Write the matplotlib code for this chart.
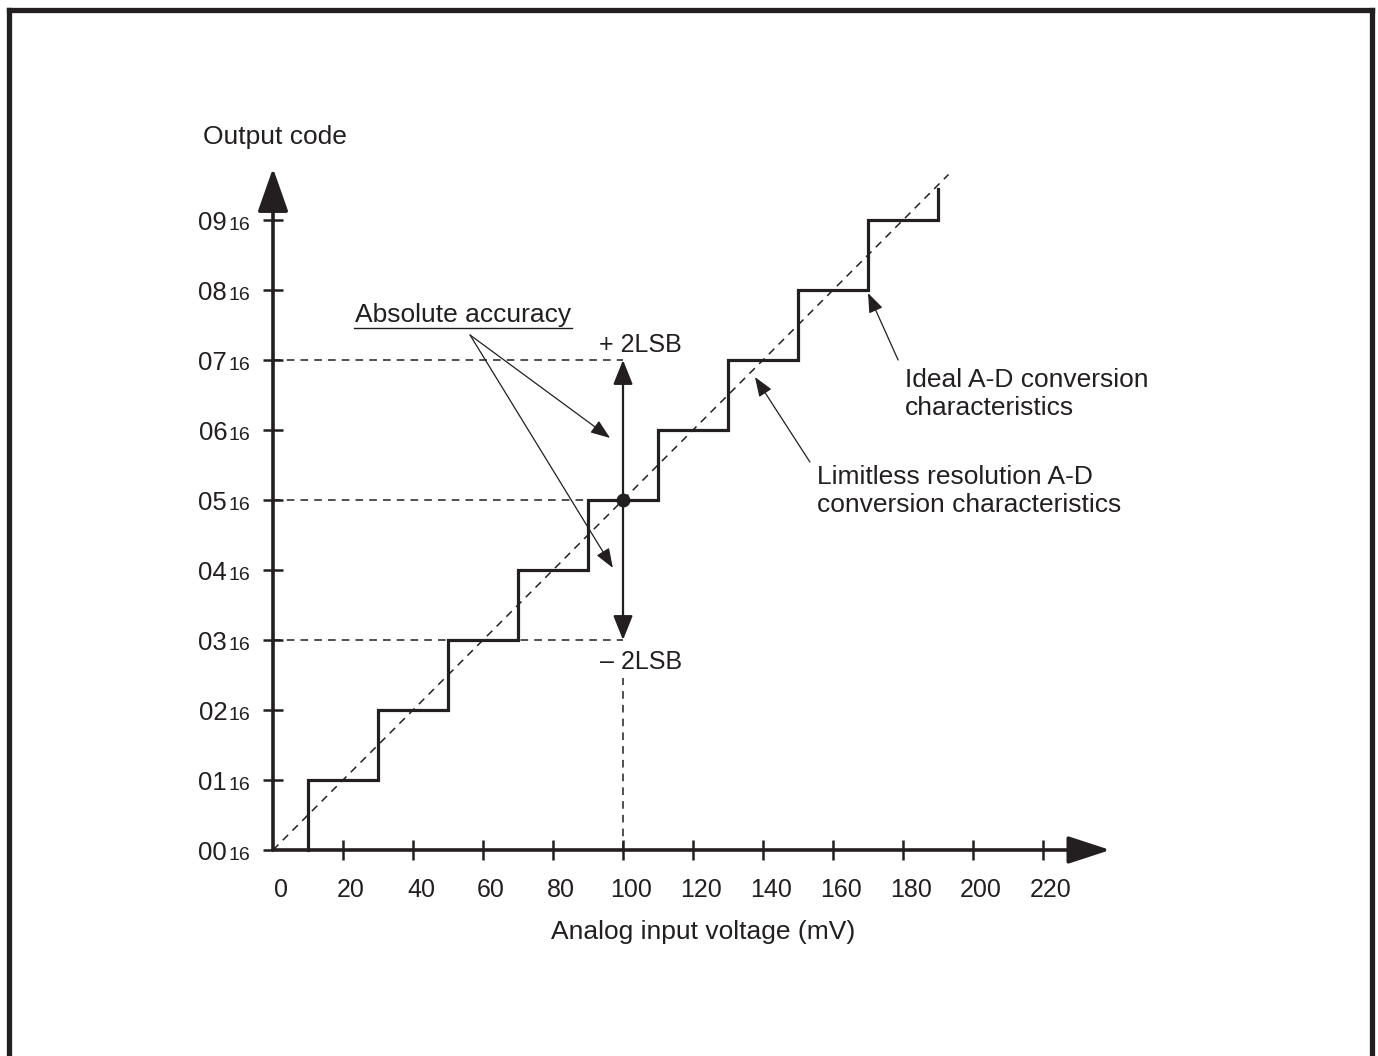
"""
Ideal A-D conversion characteristics vs. limitless resolution line
"""

import matplotlib
matplotlib.use('Agg')
import matplotlib.pyplot as plt
from matplotlib.lines import Line2D

plt.rcParams['font.family'] = ['Liberation Sans', 'DejaVu Sans']

INK = '#231f20'

# data
x_ticks = [20, 40, 60, 80, 100, 120, 140, 160, 180, 200, 220]
x_ticklabels = ['0', '20', '40', '60', '80', '100', '120', '140', '160', '180', '200', '220']
x_label_pos = [0] + x_ticks
y_codes = [0, 1, 2, 3, 4, 5, 6, 7, 8, 9]
y_labels = ['00', '01', '02', '03', '04', '05', '06', '07', '08', '09']
step_edges = [10, 30, 50, 70, 90, 110, 130, 150, 170, 190]   # mV where code steps up
last_top = 9.44
ideal_end = (193, 9.65)        # end of the limitless resolution line
center_v, center_code = 100, 5
acc_codes = [3, 5, 7]          # -2LSB, centre, +2LSB

fig = plt.figure(figsize=(13.78, 10.56), dpi=100)
ax = fig.add_axes([0, 0, 1, 1])
ax.set_xlim(-78, 315.71)
ax.set_ylim(-2.943, 12.143)
ax.axis('off')

# outer frame (open at the bottom)
for xs, ys in [([8.5, 8.5], [0, 1046]), ([8.5, 1371.5], [1046, 1046]), ([1371.5, 1371.5], [1046, 0])]:
    fig.add_artist(Line2D([x / 1378 for x in xs], [y / 1056 for y in ys],
                          transform=fig.transFigure, color=INK, lw=3.8))

# axes with arrows
ax.annotate('', xy=(239.2, 0), xytext=(0, 0),
            arrowprops=dict(arrowstyle='-|>,head_length=2.6,head_width=0.85',
                            color=INK, lw=2.6, shrinkA=0, shrinkB=0))
ax.annotate('', xy=(0, 9.74), xytext=(0, 0),
            arrowprops=dict(arrowstyle='-|>,head_length=2.7,head_width=0.95',
                            color=INK, lw=2.6, shrinkA=0, shrinkB=0))

# ticks
for v in x_ticks:
    ax.plot([v, v], [-0.143, 0.143], color=INK, lw=1.8, solid_capstyle='butt')
for c in y_codes:
    ax.plot([-2.86, 2.86 if c else 0], [c, c], color=INK, lw=1.8, solid_capstyle='butt')

for v, lab in zip(x_label_pos, x_ticklabels):
    ax.text(v + 2.3, -0.571, lab, ha='center', va='center', fontsize=18, color=INK)
for c, lab in zip(y_codes, y_labels):
    ax.text(-13.1, c - 0.136, lab, ha='right', va='baseline', fontsize=18.5, color=INK)
    ax.text(-12.6, c - 0.136, '16', ha='left', va='baseline', fontsize=14, color=INK)

ax.text(-20, 10.186, 'Output code', ha='left', va='center', fontsize=19, color=INK)
ax.text(122.9, -1.171, 'Analog input voltage (mV)', ha='center', va='center',
        fontsize=19, color=INK)

# limitless resolution line (dashed)
dash = dict(color=INK, lw=1.1, ls=(0, (5, 4)))
ax.plot([0, ideal_end[0]], [0, ideal_end[1]], **dash)

# ideal staircase
sx, sy = [], []
for i, e in enumerate(step_edges):
    sx += [e, e]
    sy += [i, i + 1 if i + 1 < len(step_edges) else last_top]
    if i + 1 < len(step_edges):
        sx += [step_edges[i + 1]]
        sy += [i + 1]
ax.plot(sx, sy, color=INK, lw=2.3, solid_joinstyle='miter')

# absolute accuracy guides
for c in acc_codes:
    ax.plot([0, center_v], [c, c], **dash)
ax.plot([center_v, center_v], [0, 2.45], **dash)
ax.annotate('', xy=(center_v, acc_codes[2]), xytext=(center_v, center_code),
            arrowprops=dict(arrowstyle='-|>,head_length=1.5,head_width=0.6',
                            color=INK, lw=1.6, shrinkA=0, shrinkB=0))
ax.annotate('', xy=(center_v, acc_codes[0]), xytext=(center_v, center_code),
            arrowprops=dict(arrowstyle='-|>,head_length=1.5,head_width=0.6',
                            color=INK, lw=1.6, shrinkA=0, shrinkB=0))
ax.plot([center_v], [center_code], 'o', color=INK, ms=9)

ax.text(105.1, 7.214, '+ 2LSB', ha='center', va='center', fontsize=18, color=INK)
ax.text(105.1, 2.686, '\u2013 2LSB', ha='center', va='center', fontsize=18, color=INK)

ax.text(54.3, 7.643, 'Absolute accuracy', ha='center', va='center', fontsize=19, color=INK)
ax.plot([23.1, 85.4], [7.457, 7.457], color=INK, lw=1.0)

thin = dict(arrowstyle='-|>,head_length=1.2,head_width=0.45', color=INK, lw=0.9,
            shrinkA=0, shrinkB=0)
ax.annotate('', xy=(96.3, 5.886), xytext=(56.3, 7.357), arrowprops=thin)
ax.annotate('', xy=(97.1, 4.03), xytext=(56.3, 7.357), arrowprops=thin)

ax.annotate('', xy=(137.7, 6.757), xytext=(153.4, 5.543), arrowprops=thin)
ax.text(155.4, 5.329, 'Limitless resolution A-D', ha='left', va='center', fontsize=19, color=INK)
ax.text(155.4, 4.929, 'conversion characteristics', ha='left', va='center', fontsize=19, color=INK)

ax.annotate('', xy=(170, 7.957), xytext=(178.6, 7.0), arrowprops=thin)
ax.text(180.6, 6.714, 'Ideal A-D conversion', ha='left', va='center', fontsize=19, color=INK)
ax.text(180.6, 6.314, 'characteristics', ha='left', va='center', fontsize=19, color=INK)

fig.savefig('out.png', dpi=100)
